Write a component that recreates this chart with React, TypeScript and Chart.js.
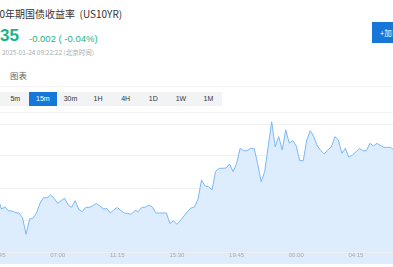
import React, { useEffect, useRef } from "react";
import { Chart, registerables } from "chart.js";

Chart.register(...registerables);

// ---- data ----
const startMinutes = 2 * 60 + 45; // first category: 02:45
const stepMinutes = 15;
const tickEvery = 17; // one visible time label every 17 bars (4h15m)

const yields = [
  4.5931, 4.5869, 4.5881, 4.5858, 4.5856, 4.5846, 4.5844, 4.5813, 4.5711, 4.5806,
  4.5811, 4.5844, 4.5906, 4.5939, 4.5939, 4.5956, 4.5936, 4.5904, 4.5921, 4.5936,
  4.5894, 4.5879, 4.5921, 4.5867, 4.5852, 4.5879, 4.5879, 4.5888, 4.5904, 4.5888,
  4.5869, 4.5872, 4.5844, 4.5863, 4.5878, 4.5859, 4.5844, 4.5841, 4.5836, 4.5859,
  4.5853, 4.5879, 4.5880, 4.5894, 4.5881, 4.5844, 4.5844, 4.5844, 4.5844, 4.5778,
  4.5795, 4.5773, 4.5797, 4.5825, 4.5853, 4.5875, 4.5881, 4.5931, 4.6050, 4.6013,
  4.6008, 4.5988, 4.6103, 4.6123, 4.6123, 4.6125, 4.6150, 4.6102, 4.6154, 4.6248,
  4.6233, 4.6233, 4.6248, 4.6248, 4.6154, 4.6039, 4.6102, 4.6258, 4.6414, 4.6258,
  4.6321, 4.6238, 4.6363, 4.6281, 4.6296, 4.6263, 4.6171, 4.6171, 4.6300, 4.6358,
  4.6321, 4.6263, 4.6234, 4.6213, 4.6238, 4.6256, 4.6321, 4.6300, 4.6217, 4.6248,
  4.6192, 4.6206, 4.6225, 4.6248, 4.6233, 4.6233, 4.6279, 4.6263, 4.6279, 4.6266,
  4.6254, 4.6254, 4.6254, 4.6231, 4.6238,
];

const gridValues = [4.56, 4.58, 4.6, 4.62, 4.64];
const yMin = 4.56125;
const yMax = 4.6475;

const periods = ["5m", "15m", "30m", "1H", "4H", "1D", "1W", "1M"];
const activePeriod = "15m";

const pad = (n: number) => (n < 10 ? "0" + n : "" + n);
const categories = yields.map((_, i) => {
  const m = (startMinutes + i * stepMinutes) % 1440;
  return pad(Math.floor(m / 60)) + ":" + pad(m % 60);
});

const LINE = "#7ab8f5";
const FILL = "#deedfd";

const bottomFill = {
  id: "bottomFill",
  beforeDraw(chart: any) {
    const { ctx, chartArea, height } = chart;
    ctx.save();
    ctx.fillStyle = FILL;
    ctx.fillRect(chartArea.left, chartArea.bottom, chartArea.right - chartArea.left, height - chartArea.bottom);
    ctx.restore();
  },
};

function YieldChart() {
  const ref = useRef<HTMLCanvasElement | null>(null);
  useEffect(() => {
    if (!ref.current) return;
    const chart = new Chart(ref.current, {
      type: "line",
      data: {
        labels: categories,
        datasets: [
          {
            data: yields,
            borderColor: LINE,
            borderWidth: 1,
            backgroundColor: FILL,
            fill: "start",
            pointRadius: 0,
            tension: 0,
          },
        ],
      },
      options: {
        animation: false,
        responsive: false,
        devicePixelRatio: 1,
        layout: { padding: 0 },
        plugins: { legend: { display: false }, tooltip: { enabled: false } },
        scales: {
          x: {
            grid: { display: false, drawTicks: false },
            border: { display: false },
            ticks: {
              autoSkip: false,
              maxRotation: 0,
              minRotation: 0,
              padding: 2,
              color: "#aaaaaa",
              font: { size: 6, family: "'Liberation Sans', Arial, sans-serif" },
              callback: (_v: any, i: number) => (i % tickEvery === 0 ? categories[i] : ""),
            },
            afterFit: (s: any) => {
              s.height = 14;
              s.paddingLeft = 0;
              s.paddingRight = 0;
            },
          },
          y: {
            min: yMin,
            max: yMax,
            border: { display: false },
            grid: { color: "#efefef", drawTicks: false, lineWidth: 1 },
            ticks: { display: false },
            afterBuildTicks: (s: any) => {
              s.ticks = gridValues.map((v) => ({ value: v }));
            },
            afterFit: (s: any) => {
              s.width = 0;
            },
          },
        },
      },
      plugins: [bottomFill],
    });
    return () => chart.destroy();
  }, []);
  return <canvas ref={ref} width={400} height={152} style={{ position: "absolute", left: -2, top: 112, width: 400, height: 152 }} />;
}

export default function App() {
  const green = "#1cb383";
  return (
    <div
      style={{
        position: "fixed",
        left: 0,
        top: 0,
        width: 393,
        height: 267,
        overflow: "hidden",
        background: "#fff",
        fontFamily: "'Noto Sans CJK SC', 'Noto Sans', sans-serif",
      }}
    >
      <div style={{ position: "absolute", left: -6, top: 6, fontSize: 10, lineHeight: "16px", color: "#333", whiteSpace: "nowrap" }}>
        10年期国债收益率&nbsp;&nbsp;(US10YR)
      </div>
      <div style={{ position: "absolute", right: 393 - 19, top: 25, fontSize: 17, lineHeight: "22px", fontWeight: 700, color: green, whiteSpace: "nowrap", fontFamily: "'Liberation Sans', Arial, sans-serif" }}>
        4.635
      </div>
      <div style={{ position: "absolute", left: 29, top: 32, fontSize: 9.5, lineHeight: "13px", color: green, whiteSpace: "nowrap", fontFamily: "'Liberation Sans', Arial, sans-serif" }}>
        -0.002 ( -0.04%)
      </div>
      <div style={{ position: "absolute", left: 2, top: 47, fontSize: 6.5, lineHeight: "10px", color: "#aaa", whiteSpace: "nowrap" }}>
        2025-01-24 09:22:22 (北京时间)
      </div>
      <div style={{ position: "absolute", left: 372, top: 22, width: 40, height: 21, background: "#1677d8", color: "#fff", fontSize: 7.5, lineHeight: "21px", paddingLeft: 8, whiteSpace: "nowrap", boxSizing: "border-box" }}>
        +加自选
      </div>
      <div style={{ position: "absolute", left: 10, top: 70, fontSize: 8.5, lineHeight: "11px", color: "#666", whiteSpace: "nowrap" }}>图表</div>
      <div style={{ position: "absolute", left: 0, top: 86, width: 393, height: 1, background: "#f2f2f2" }} />
      <div style={{ position: "absolute", left: 0, top: 92, width: 222, height: 14, background: "#f2f3f5" }} />
      {periods.map((p, k) => (
        <div
          key={p}
          style={{
            position: "absolute",
            left: 1.5 + k * 27.6,
            top: 92,
            width: 27.6,
            height: 14,
            lineHeight: "14px",
            textAlign: "center",
            fontSize: 7,
            fontFamily: "'Liberation Sans', Arial, sans-serif",
            color: p === activePeriod ? "#fff" : "#333",
            background: p === activePeriod ? "#1677d8" : "transparent",
          }}
        >
          {p}
        </div>
      ))}
      <div style={{ position: "absolute", left: 0, top: 112, width: 393, height: 1, background: "#f2f2f2" }} />
      <YieldChart />
    </div>
  );
}
